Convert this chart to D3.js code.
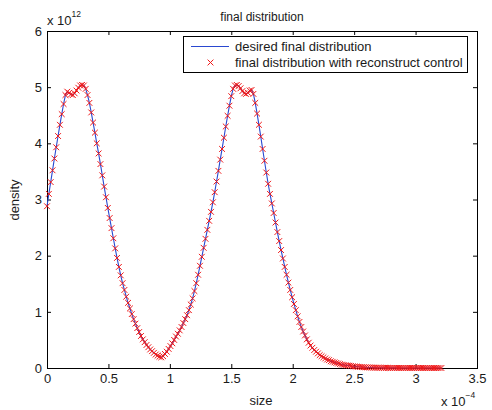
<!DOCTYPE html>
<html>
<head>
<meta charset="utf-8">
<script src="https://cdn.jsdelivr.net/npm/d3@7"></script>
<style>
  body { margin: 0; background: #fff; }
  text { font-family: "Liberation Sans", Arial, sans-serif; fill: #1a1a1a; }
</style>
</head>
<body>
<svg id="chart" width="492" height="410"></svg>
<script>
// size values, units of 1e-4
const sizes = [
  0, 0.015, 0.03, 0.045, 0.06, 0.075, 0.09, 0.105, 0.12, 0.135,
  0.15, 0.165, 0.18, 0.195, 0.21, 0.225, 0.24, 0.255, 0.27, 0.285,
  0.3, 0.315, 0.33, 0.345, 0.36, 0.375, 0.39, 0.405, 0.42, 0.435,
  0.45, 0.465, 0.48, 0.495, 0.51, 0.525, 0.54, 0.555, 0.57, 0.585,
  0.6, 0.615, 0.63, 0.645, 0.66, 0.675, 0.69, 0.705, 0.72, 0.735,
  0.75, 0.765, 0.78, 0.795, 0.81, 0.825, 0.84, 0.855, 0.87, 0.885,
  0.9, 0.915, 0.93, 0.945, 0.96, 0.975, 0.99, 1.005, 1.02, 1.035,
  1.05, 1.065, 1.08, 1.095, 1.11, 1.125, 1.14, 1.155, 1.17, 1.185,
  1.2, 1.215, 1.23, 1.245, 1.26, 1.275, 1.29, 1.305, 1.32, 1.335,
  1.35, 1.365, 1.38, 1.395, 1.41, 1.425, 1.44, 1.455, 1.47, 1.485,
  1.5, 1.515, 1.53, 1.545, 1.56, 1.575, 1.59, 1.605, 1.62, 1.635,
  1.65, 1.665, 1.68, 1.695, 1.71, 1.725, 1.74, 1.755, 1.77, 1.785,
  1.8, 1.815, 1.83, 1.845, 1.86, 1.875, 1.89, 1.905, 1.92, 1.935,
  1.95, 1.965, 1.98, 1.995, 2.01, 2.025, 2.04, 2.055, 2.07, 2.085,
  2.1, 2.115, 2.13, 2.145, 2.16, 2.175, 2.19, 2.205, 2.22, 2.235,
  2.25, 2.265, 2.28, 2.295, 2.31, 2.325, 2.34, 2.355, 2.37, 2.385,
  2.4, 2.415, 2.43, 2.445, 2.46, 2.475, 2.49, 2.505, 2.52, 2.535,
  2.55, 2.565, 2.58, 2.595, 2.61, 2.625, 2.64, 2.655, 2.67, 2.685,
  2.7, 2.715, 2.73, 2.745, 2.76, 2.775, 2.79, 2.805, 2.82, 2.835,
  2.85, 2.865, 2.88, 2.895, 2.91, 2.925, 2.94, 2.955, 2.97, 2.985,
  3.0, 3.015, 3.03, 3.045, 3.06, 3.075, 3.09, 3.105, 3.12, 3.135,
  3.15, 3.165, 3.18, 3.195, 3.21
];

// density values, units of 1e12
const density = [
  2.88, 3.10, 3.31, 3.52, 3.73, 3.93, 4.13, 4.33, 4.52, 4.70,
  4.86, 4.92, 4.90, 4.87, 4.86, 4.89, 4.94, 4.99, 5.03, 5.04,
  5.03, 4.97, 4.86, 4.72, 4.55, 4.37, 4.19, 4.00, 3.82, 3.63,
  3.43, 3.23, 3.04, 2.85, 2.67, 2.49, 2.31, 2.13, 1.96, 1.80,
  1.65, 1.51, 1.39, 1.27, 1.16, 1.06, 0.96, 0.87, 0.79, 0.71,
  0.64, 0.57, 0.51, 0.46, 0.41, 0.37, 0.33, 0.30, 0.27, 0.24,
  0.22, 0.20, 0.19, 0.21, 0.25, 0.29, 0.34, 0.39, 0.44, 0.50,
  0.56, 0.61, 0.67, 0.73, 0.80, 0.87, 0.94, 1.03, 1.13, 1.24,
  1.37, 1.51, 1.66, 1.82, 1.98, 2.14, 2.30, 2.46, 2.62, 2.78,
  2.95, 3.13, 3.32, 3.51, 3.71, 3.90, 4.10, 4.30, 4.49, 4.67,
  4.84, 4.97, 5.03, 5.04, 5.02, 4.98, 4.93, 4.89, 4.88, 4.90,
  4.94, 4.95, 4.88, 4.72, 4.53, 4.33, 4.12, 3.90, 3.69, 3.48,
  3.28, 3.10, 2.93, 2.76, 2.59, 2.42, 2.26, 2.10, 1.95, 1.80,
  1.66, 1.52, 1.39, 1.26, 1.14, 1.03, 0.92, 0.82, 0.73, 0.65,
  0.58, 0.51, 0.45, 0.40, 0.36, 0.32, 0.29, 0.26, 0.23, 0.21,
  0.19, 0.17, 0.15, 0.14, 0.12, 0.11, 0.10, 0.09, 0.08, 0.07,
  0.06, 0.055, 0.05, 0.045, 0.04, 0.035, 0.03, 0.027, 0.024, 0.021,
  0.018, 0.016, 0.014, 0.012, 0.010, 0.009, 0.008, 0.007, 0.006, 0.005,
  0.004, 0.004, 0.003, 0.003, 0.003, 0.002, 0.002, 0.002, 0.002, 0.002,
  0.001, 0.001, 0.001, 0.001, 0.001, 0.001, 0.001, 0.001, 0.001, 0.001,
  0.001, 0.001, 0.001, 0.001, 0.001, 0, 0, 0, 0, 0,
  0, 0, 0, 0, 0
];

const xTicks = [0, 0.5, 1, 1.5, 2, 2.5, 3, 3.5];
const yTicks = [0, 1, 2, 3, 4, 5, 6];
const legendLabels = ["desired final distribution", "final distribution with reconstruct control"];

const points = sizes.map((s, i) => ({ x: s, y: density[i] }));

const svg = d3.select("#chart");
const plotLeft = 47, plotRight = 477, plotTop = 31, plotBottom = 368;
const blue = "#2a48d0", red = "#f01818";

let xscale = d3.scaleLinear().domain([0, 3.5]).range([plotLeft, plotRight]);
let yscale = d3.scaleLinear().domain([0, 6]).range([plotBottom, plotTop]);

//#region axes
const tickFmt = d => String(d);
let xAxis = d3.axisBottom(xscale).tickValues(xTicks).tickFormat(tickFmt).tickSizeInner(-4).tickSizeOuter(0).tickPadding(6);
let yAxis = d3.axisLeft(yscale).tickValues(yTicks).tickFormat(tickFmt).tickSizeInner(-4).tickSizeOuter(0).tickPadding(5);
let xTop = d3.axisTop(xscale).tickValues(xTicks).tickFormat("").tickSizeInner(-4).tickSizeOuter(0);
let yRight = d3.axisRight(yscale).tickValues(yTicks).tickFormat("").tickSizeInner(-4).tickSizeOuter(0);

const styleAxis = g => {
  g.select(".domain").remove();
  g.selectAll("line").attr("stroke", "#000");
  g.selectAll("text").attr("font-size", 13).attr("fill", "#1a1a1a")
    .attr("font-family", "'Liberation Sans', Arial, sans-serif");
};

svg.append("g").attr("transform", `translate(0,${plotBottom})`).call(xAxis).call(styleAxis);
svg.append("g").attr("transform", `translate(${plotLeft},0)`).call(yAxis).call(styleAxis);
svg.append("g").attr("transform", `translate(0,${plotTop})`).call(xTop).call(styleAxis);
svg.append("g").attr("transform", `translate(${plotRight},0)`).call(yRight).call(styleAxis);

svg.append("rect")
  .attr("x", plotLeft + 0.5).attr("y", plotTop + 0.5)
  .attr("width", plotRight - plotLeft).attr("height", plotBottom - plotTop)
  .attr("fill", "none").attr("stroke", "#000").attr("stroke-width", 1);
//#endregion

// curve + markers
svg.append("path")
  .datum(points)
  .attr("fill", "none")
  .attr("stroke", blue)
  .attr("stroke-width", 1.1)
  .attr("d", d3.line().x(d => xscale(d.x)).y(d => yscale(d.y)));

const ms = 2.9;
const cross = `M${-ms},${-ms}L${ms},${ms}M${-ms},${ms}L${ms},${-ms}`;
svg.append("g").selectAll("path")
  .data(points)
  .join("path")
  .attr("transform", d => `translate(${xscale(d.x)},${yscale(d.y)})`)
  .attr("d", cross)
  .attr("stroke", red)
  .attr("stroke-width", 1)
  .attr("fill", "none");

// texts
svg.append("text").attr("x", 262).attr("y", 21).attr("text-anchor", "middle")
  .attr("font-size", 12).text("final distribution");
svg.append("text").attr("x", 261).attr("y", 405).attr("text-anchor", "middle")
  .attr("font-size", 13).text("size");
svg.append("text").attr("transform", "translate(19,200) rotate(-90)").attr("text-anchor", "middle")
  .attr("font-size", 13).text("density");

const yExp = svg.append("text").attr("x", 47).attr("y", 25).attr("font-size", 13);
yExp.append("tspan").text("x 10");
yExp.append("tspan").attr("font-size", 8.5).attr("dy", -8).text("12");

const xExp = svg.append("text").attr("x", 441).attr("y", 406).attr("font-size", 13);
xExp.append("tspan").text("x 10");
xExp.append("tspan").attr("font-size", 8.5).attr("dy", -8).text("\u22124");

//#region legend
const lg = svg.append("g");
lg.append("rect").attr("x", 183.5).attr("y", 36.5).attr("width", 284).attr("height", 36)
  .attr("fill", "#fff").attr("stroke", "#000").attr("stroke-width", 1);
lg.append("line").attr("x1", 191).attr("x2", 229).attr("y1", 46.5).attr("y2", 46.5)
  .attr("stroke", blue).attr("stroke-width", 1.1);
lg.append("path").attr("transform", "translate(210.5,62.5)").attr("d", cross)
  .attr("stroke", red).attr("stroke-width", 1);
lg.selectAll("text.lab").data(legendLabels).join("text")
  .attr("class", "lab")
  .attr("x", 235).attr("y", (d, i) => 51 + i * 16)
  .attr("font-size", 13).text(d => d);
//#endregion
</script>
</body>
</html>
